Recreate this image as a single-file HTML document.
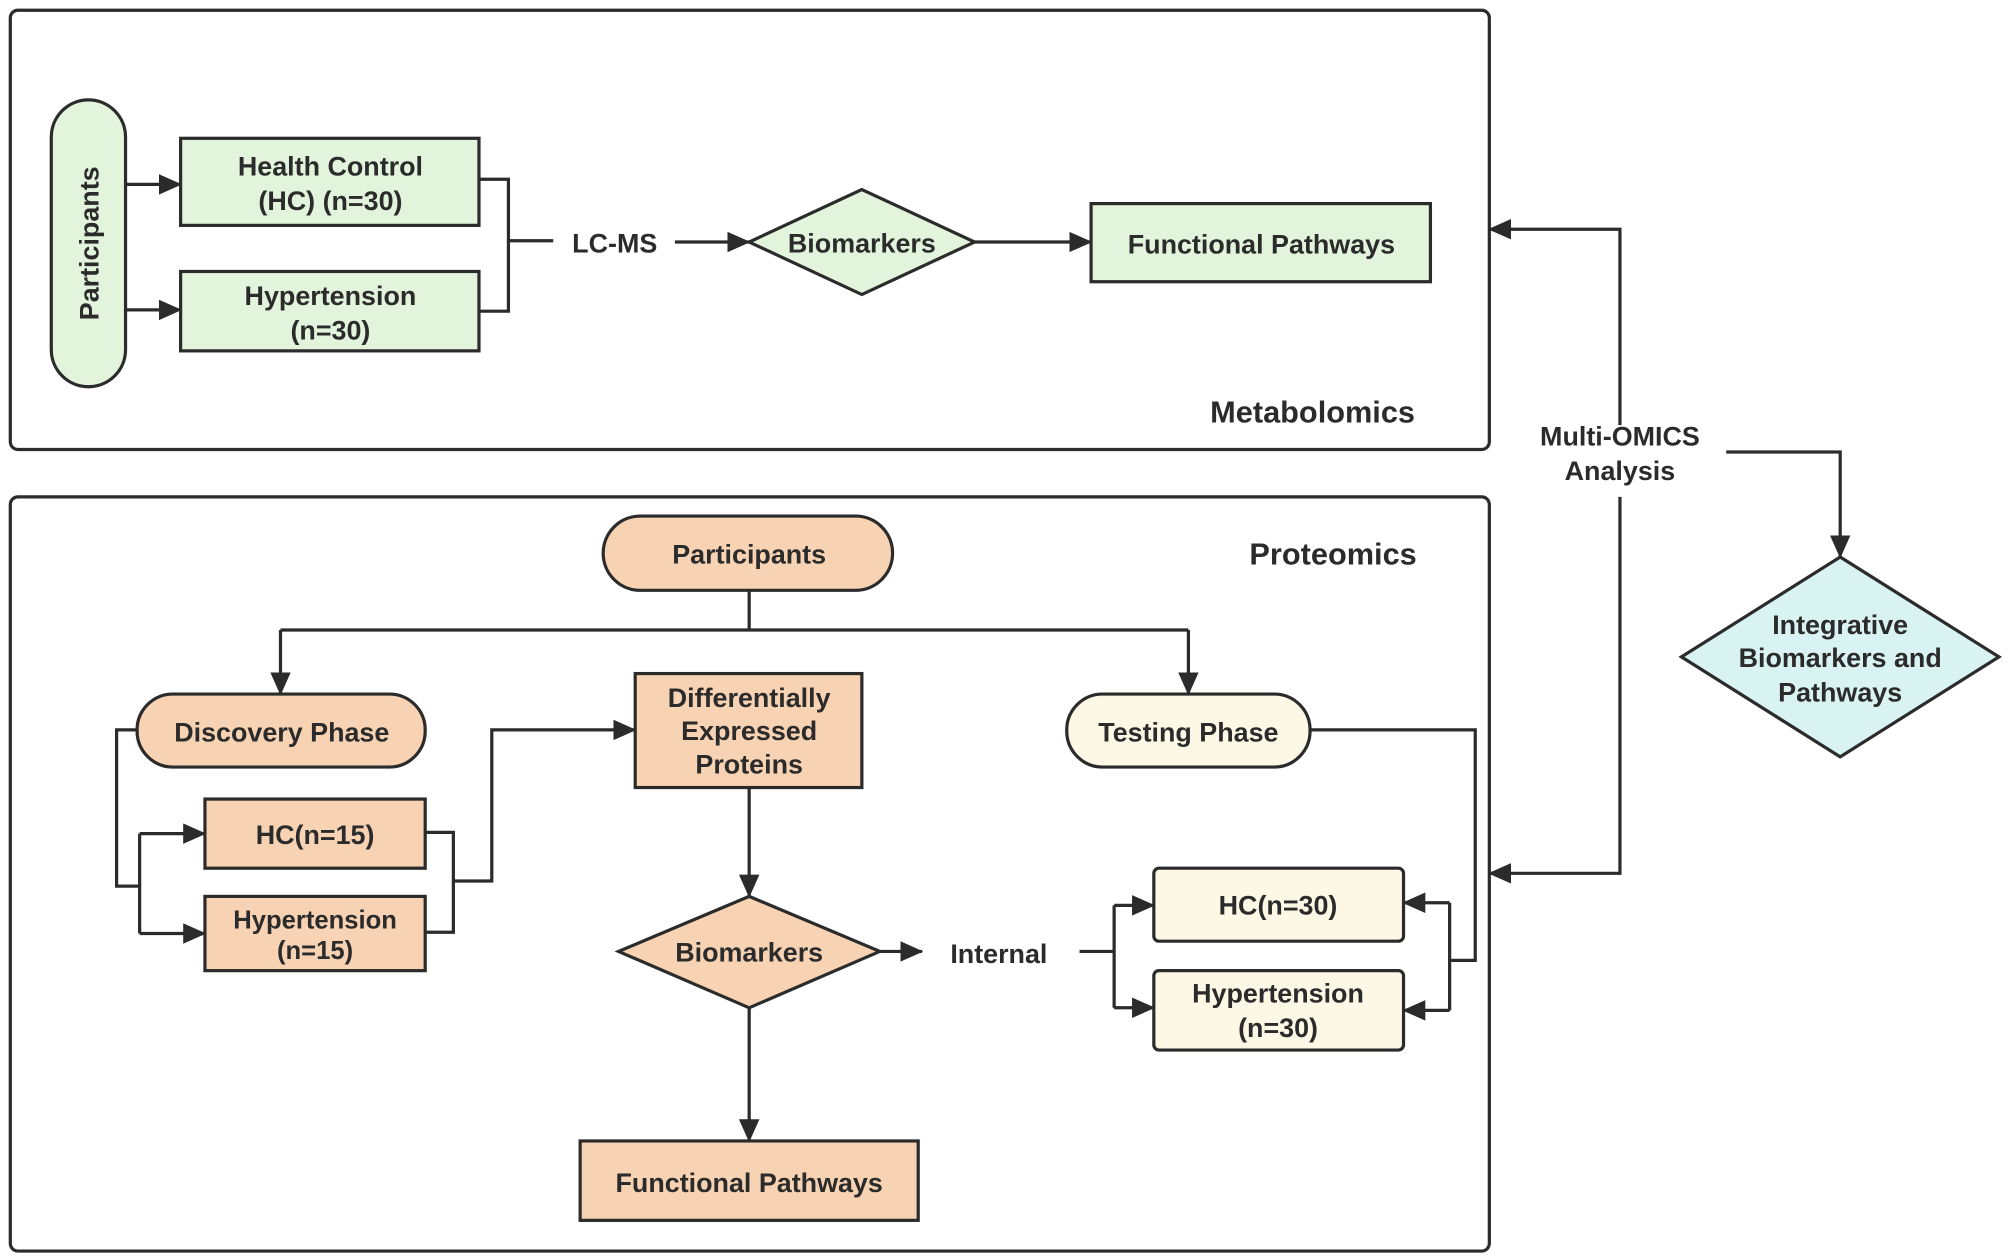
<!DOCTYPE html>
<html><head><meta charset="utf-8"><style>
html,body{margin:0;padding:0;background:#fff;}
svg{display:block;}
text{font-family:"Liberation Sans","DejaVu Sans",sans-serif;font-weight:bold;fill:#2b2b2b;font-size:21px;text-anchor:middle;}
</style></head><body>
<svg width="2008" height="1258" viewBox="0 0 1568 982.4" xmlns="http://www.w3.org/2000/svg">
<defs><marker id="a" markerWidth="10" markerHeight="10" refX="9" refY="5" orient="auto" markerUnits="userSpaceOnUse"><path d="M0,0 L10,5 L0,10 Z" fill="#2b2b2b" transform="scale(1.8) translate(-4.5,-2.2)"/></marker>
<marker id="b" markerWidth="20" markerHeight="20" refX="17" refY="8" orient="auto" markerUnits="userSpaceOnUse"><path d="M0,0 L18,8 L0,16 Z" fill="#2b2b2b"/></marker></defs>
<g fill="none" stroke="#2b2b2b" stroke-width="2.5">
<rect x="8" y="8" width="1155" height="343" rx="6"/>
<rect x="8" y="388" width="1155" height="589" rx="6"/>
<rect x="40" y="78" width="58" height="224" rx="29" fill="#e2f4dc"/>
<rect x="141" y="108" width="233" height="68" fill="#e2f4dc"/>
<rect x="141" y="212" width="233" height="62" fill="#e2f4dc"/>
<path d="M673,148 L761,189 L673,230 L585,189 Z" fill="#e2f4dc"/>
<rect x="852" y="159" width="265" height="61" fill="#e2f4dc"/>
<path d="M1437,435 L1561,513 L1437,591 L1313,513 Z" fill="#d9f2f2"/>
<rect x="471" y="403" width="226" height="58" rx="29" fill="#f7d3b3"/>
<rect x="107" y="542" width="225" height="57" rx="28" fill="#f7d3b3"/>
<rect x="833" y="542" width="190" height="57" rx="28" fill="#fdf8e6"/>
<rect x="160" y="624" width="172" height="54" fill="#f7d3b3"/>
<rect x="160" y="700" width="172" height="58" fill="#f7d3b3"/>
<rect x="496" y="526" width="177" height="89" fill="#f7d3b3"/>
<path d="M585,700 L687,743 L585,787 L483,743 Z" fill="#f7d3b3"/>
<rect x="901" y="678" width="195" height="57" rx="4" fill="#fdf8e6"/>
<rect x="901" y="758" width="195" height="62" rx="4" fill="#fdf8e6"/>
<rect x="453" y="891" width="264" height="62" fill="#f7d3b3"/>
<!-- connectors -->
<path d="M98,144 L141,144" marker-end="url(#b)"/>
<path d="M98,242 L141,242" marker-end="url(#b)"/>
<path d="M374,140 L397,140 L397,243 L374,243 M397,188 L432,188"/>
<path d="M527,189 L585,189" marker-end="url(#b)"/>
<path d="M761,189 L852,189" marker-end="url(#b)"/>
<path d="M1265,332 L1265,179 L1163,179" marker-end="url(#b)"/>
<path d="M1265,388 L1265,682 L1163,682" marker-end="url(#b)"/>
<path d="M1348,353 L1437,353 L1437,435" marker-end="url(#b)"/>
<path d="M585,461 L585,492 M219,492 L928,492"/>
<path d="M219,492 L219,542" marker-end="url(#b)"/>
<path d="M928,492 L928,542" marker-end="url(#b)"/>
<path d="M107,570 L91,570 L91,692 L109,692 M109,651 L109,729"/>
<path d="M109,651 L160,651" marker-end="url(#b)"/>
<path d="M109,729 L160,729" marker-end="url(#b)"/>
<path d="M332,650 L354,650 L354,728 L332,728 M354,688 L384,688 L384,570 L496,570" marker-end="url(#b)"/>
<path d="M585,615 L585,700" marker-end="url(#b)"/>
<path d="M687,743 L720,743" marker-end="url(#b)"/>
<path d="M843,743 L870,743 M870,707 L870,787"/>
<path d="M870,707 L901,707" marker-end="url(#b)"/>
<path d="M870,787 L901,787" marker-end="url(#b)"/>
<path d="M1023,570 L1152,570 L1152,750 L1132,750 M1132,705 L1132,789"/>
<path d="M1132,705 L1096,705" marker-end="url(#b)"/>
<path d="M1132,789 L1096,789" marker-end="url(#b)"/>
<path d="M585,787 L585,891" marker-end="url(#b)"/>
</g>
<text transform="translate(77,190) rotate(-90)">Participants</text>
<text x="258" y="137">Health Control</text>
<text x="258" y="164">(HC)  (n=30)</text>
<text x="258" y="238">Hypertension</text>
<text x="258" y="265">(n=30)</text>
<text x="480" y="197">LC-MS</text>
<text x="673" y="197">Biomarkers</text>
<text x="985" y="198">Functional Pathways</text>
<text x="1025" y="330" style="font-size:24px">Metabolomics</text>
<text x="1265" y="348">Multi-OMICS</text>
<text x="1265" y="375">Analysis</text>
<text x="1437" y="495">Integrative</text>
<text x="1437" y="521">Biomarkers and</text>
<text x="1437" y="548">Pathways</text>
<text x="1041" y="441" style="font-size:24px">Proteomics</text>
<text x="585" y="440">Participants</text>
<text x="220" y="579">Discovery Phase</text>
<text x="928" y="579">Testing Phase</text>
<text x="585" y="552">Differentially</text>
<text x="585" y="578">Expressed</text>
<text x="585" y="604">Proteins</text>
<text x="246" y="659">HC(n=15)</text>
<text x="246" y="725" style="font-size:20px">Hypertension</text>
<text x="246" y="749" style="font-size:20px">(n=15)</text>
<text x="585" y="751">Biomarkers</text>
<text x="780" y="752">Internal</text>
<text x="998" y="714">HC(n=30)</text>
<text x="998" y="783">Hypertension</text>
<text x="998" y="810">(n=30)</text>
<text x="585" y="931">Functional Pathways</text>
</svg>
</body></html>
